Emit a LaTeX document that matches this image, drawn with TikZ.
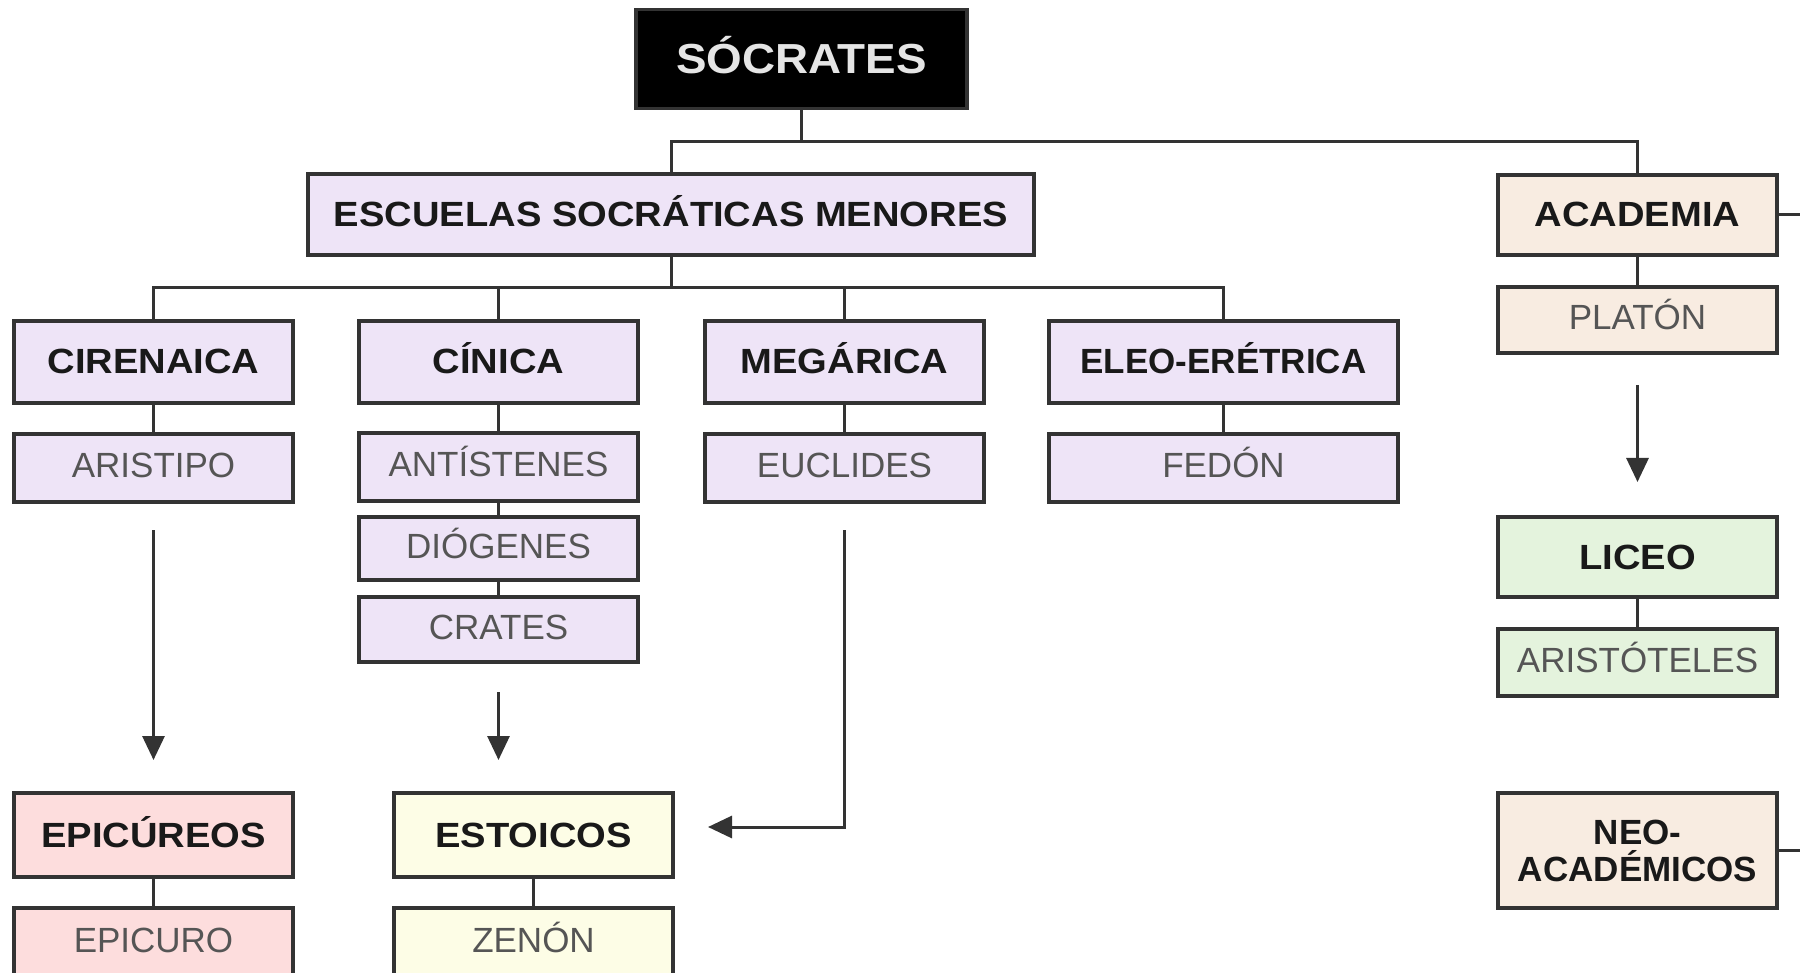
\documentclass[tikz,border=0pt]{standalone}
\usepackage{fontspec}
\setmainfont{Liberation Sans}
\newfontfamily\wideb[FakeStretch=1.09]{Liberation Sans}
\usetikzlibrary{arrows.meta}
\definecolor{lav}{HTML}{EEE4F7}
\definecolor{beige}{HTML}{F8ECE1}
\definecolor{lgreen}{HTML}{E4F3DD}
\definecolor{lpink}{HTML}{FDDDDD}
\definecolor{lyellow}{HTML}{FDFDE6}
\definecolor{bord}{HTML}{333333}
\definecolor{nametxt}{HTML}{555555}
\tikzset{
  box/.style={draw=bord, line width=3.5pt, rectangle, inner sep=0pt, align=center},
  school/.style={box, font=\fontsize{35}{38}\wideb\bfseries, text=black!90, text height=25pt, text depth=1pt},
  schoolnarrow/.style={school, font=\fontsize{35}{38}\selectfont\bfseries},
  schooltwo/.style={box, font=\fontsize{35}{37}\selectfont\bfseries, text=black!90},
  person/.style={box, font=\fontsize{35}{38}\selectfont, text=nametxt, text height=25pt, text depth=5pt},
  conn/.style={draw=bord, line width=3pt},
  arr/.style={conn, -{Triangle[length=24pt,width=22pt]}},
}
\begin{document}
\begin{tikzpicture}[x=1pt,y=-1pt]
\useasboundingbox (0,0) rectangle (1800,973);
% top
\node[box, fill=black, text=black!10, font=\fontsize{42}{46}\wideb\bfseries, text height=30pt, text depth=1pt, minimum width=331pt, minimum height=99pt] (soc) at (801.5,59) {SÓCRATES};
\node[school, fill=lav, minimum width=726pt, minimum height=81pt] (esc) at (671,214.5) {ESCUELAS SOCRÁTICAS MENORES};
\node[school, fill=beige, minimum width=279pt, minimum height=80pt] (acad) at (1637.5,215) {ACADEMIA};
\node[person, fill=beige, minimum width=279pt, minimum height=66pt] (platon) at (1637.5,320) {PLATÓN};
\node[school, fill=lgreen, minimum width=279pt, minimum height=80pt] (liceo) at (1637.5,557) {LICEO};
\node[person, fill=lgreen, minimum width=279pt, minimum height=67pt] (aristoteles) at (1637.5,662.5) {ARISTÓTELES};
\node[schooltwo, fill=beige, minimum width=279pt, minimum height=115pt] (neo) at (1637.5,850.5) {NEO-\\ACADÉMICOS};
% schools
\node[school, fill=lav, minimum width=279pt, minimum height=82pt] (cir) at (153.5,362) {CIRENAICA};
\node[school, fill=lav, minimum width=279pt, minimum height=82pt] (cin) at (498.5,362) {CÍNICA};
\node[school, fill=lav, minimum width=279pt, minimum height=82pt] (meg) at (844.5,362) {MEGÁRICA};
\node[schoolnarrow, fill=lav, minimum width=349pt, minimum height=82pt] (eleo) at (1223.5,362) {ELEO-ERÉTRICA};
\node[person, fill=lav, minimum width=279pt, minimum height=68pt] (aristipo) at (153.5,468) {ARISTIPO};
\node[person, fill=lav, minimum width=279pt, minimum height=68pt] (antis) at (498.5,467) {ANTÍSTENES};
\node[person, fill=lav, minimum width=279pt, minimum height=63pt] (diog) at (498.5,548.5) {DIÓGENES};
\node[person, fill=lav, minimum width=279pt, minimum height=65pt] (crates) at (498.5,629.5) {CRATES};
\node[person, fill=lav, minimum width=279pt, minimum height=68pt] (eucl) at (844.5,468) {EUCLIDES};
\node[person, fill=lav, minimum width=349pt, minimum height=68pt] (fedon) at (1223.5,468) {FEDÓN};
% bottom
\node[school, fill=lpink, minimum width=279pt, minimum height=84pt] (epis) at (153.5,835) {EPICÚREOS};
\node[person, fill=lpink, minimum width=279pt, minimum height=68pt] (epicuro) at (153.5,942) {EPICURO};
\node[school, fill=lyellow, minimum width=279pt, minimum height=84pt] (estoicos) at (533.5,835) {ESTOICOS};
\node[person, fill=lyellow, minimum width=279pt, minimum height=68pt] (zenon) at (533.5,942) {ZENÓN};
% tree connectors
\coordinate (j1) at (801.5,142);
\coordinate (j2) at (671,288);
\draw[conn] (soc.south) -- (j1);
\draw[conn] (j1) -| (esc.north);
\draw[conn] (j1) -| (acad.north);
\draw[conn] (esc.south) -- (j2);
\draw[conn] (j2) -| (cir.north);
\draw[conn] (j2) -| (cin.north);
\draw[conn] (j2) -| (meg.north);
\draw[conn] (j2) -| (eleo.north);
\draw[conn] (cir) -- (aristipo);
\draw[conn] (cin) -- (antis);
\draw[conn] (antis) -- (diog);
\draw[conn] (diog) -- (crates);
\draw[conn] (meg) -- (eucl);
\draw[conn] (eleo) -- (fedon);
\draw[conn] (acad) -- (platon);
\draw[conn] (liceo) -- (aristoteles);
\draw[conn] (epis) -- (epicuro);
\draw[conn] (estoicos) -- (zenon);
\coordinate (acadout) at (1800,215);
\coordinate (neoout) at (1800,850.5);
\draw[conn] (acad.east) -- (acadout);
\draw[conn] (neo.east) -- (neoout);
% arrows
\coordinate (a1s) at (153.5,530);
\coordinate (a1e) at (153.5,760);
\draw[arr] (a1s) -- (a1e);
\coordinate (a2s) at (498.5,692);
\coordinate (a2e) at (498.5,760);
\draw[arr] (a2s) -- (a2e);
\coordinate (a3s) at (844.5,530);
\coordinate (a3c) at (844.5,827);
\coordinate (a3e) at (708,827);
\draw[arr] (a3s) -- (a3c) -- (a3e);
\coordinate (a4s) at (1637.5,385);
\coordinate (a4e) at (1637.5,482);
\draw[arr] (a4s) -- (a4e);
\end{tikzpicture}
\end{document}
